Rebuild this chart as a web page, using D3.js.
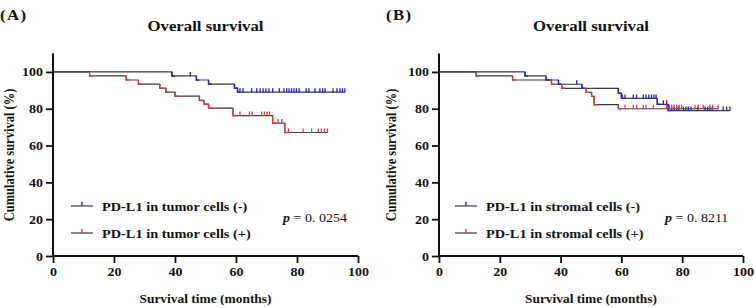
<!DOCTYPE html>
<html>
<head>
<meta charset="utf-8">
<script src="https://cdn.jsdelivr.net/npm/d3@7"></script>
<style>
  body { margin: 0; background: #fff; }
  text { font-family: "Liberation Serif", "Times New Roman", serif; font-weight: bold; fill: #111; }
</style>
</head>
<body>
<div id="canvas"></div>
<script>
// Panel A: PD-L1 in tumor cells
const tumorNegEvents = [[39, 97.8], [47, 95.6], [51, 93.4], [59.5, 91.2], [60.5, 89.0]];
const tumorNegCensor = [45, 61.3, 62.3, 65.1, 66.8, 67.9, 68.9, 69.8, 70.8, 72, 74.2, 75.7, 76.6, 77.4,
  78.2, 79, 79.8, 80.7, 83, 83.9, 85.9, 87.5, 88.4, 89.2, 91.8, 93.1, 94.1, 94.9, 95.7];
const tumorPosEvents = [[12, 97.8], [24, 95.6], [28, 93.4], [35, 91.2], [37, 89.0], [40, 86.8],
  [48, 84.5], [49.5, 82.5], [51, 80.3], [59, 76.3], [72, 72.2], [76, 67.1]];
const tumorPosCensor = [61.3, 64.4, 65.3, 68.4, 69.3, 70.2, 71, 73.8, 75, 77.2, 82, 84.8, 87, 88, 89, 90];

// Panel B: PD-L1 in stromal cells
const stromalNegEvents = [[28.3, 97.8], [35.2, 95.6], [39.3, 93.3], [47, 91.1], [59, 88.5], [60, 85.6],
  [71.8, 82.4], [75.4, 79.0]];
const stromalNegCensor = [45.3, 60.3, 61.2, 63.9, 65, 67.2, 68.1, 69, 69.9, 70.7, 71.4, 73.8, 74.9,
  76.5, 77.4, 78.2, 78.9, 80.4, 81.2, 82, 82.9, 85.1, 87.5, 88.4, 89.1, 89.9, 93.5, 94.6, 95.7];
const stromalPosEvents = [[12.2, 97.8], [24.2, 95.6], [37, 93.3], [40.4, 91.1], [48.4, 88.9],
  [50.2, 86.7], [51, 82.2], [59, 80.0]];
const stromalPosCensor = [61.2, 63.9, 65, 67.2, 68.1, 70.5, 74.9, 75.8, 76.5, 77.3, 78.2, 79, 79.8,
  84.2, 85.3, 86.9, 89.1, 90, 91.8];

const xTicks = [0, 20, 40, 60, 80, 100];
const yTicks = [0, 20, 40, 60, 80, 100];

const panels = [
  { label: "(A)", left: 53, right: 358, labelX: 10,
    neg: { name: "PD-L1 in tumor cells (-)", events: tumorNegEvents, censor: tumorNegCensor },
    pos: { name: "PD-L1 in tumor cells (+)", events: tumorPosEvents, censor: tumorPosCensor },
    p: "0. 0254", legendX: 71, pX: 283 },
  { label: "(B)", left: 439, right: 743, labelX: 392,
    neg: { name: "PD-L1 in stromal cells (-)", events: stromalNegEvents, censor: stromalNegCensor },
    pos: { name: "PD-L1 in stromal cells (+)", events: stromalPosEvents, censor: stromalPosCensor },
    p: "0. 8211", legendX: 455, pX: 665 }
];

const blue = "#1f1fd6", red = "#e23a3a", gray = "#3a3a3a";
const stretch = 1.12; // the source text is a bit wide

const svg = d3.select("#canvas")
  .append("svg")
  .attr("width", 755)
  .attr("height", 308);

function survAt(events, t) {
  let s = 100;
  events.forEach(e => { if (e[0] <= t) s = e[1]; });
  return s;
}

function wideText(g, x, y, size, anchor, str) {
  return g.append("text")
    .attr("transform", `translate(${x},${y}) scale(${stretch},1)`)
    .attr("text-anchor", anchor)
    .style("font-size", size + "px")
    .text(str);
}

function drawCurve(g, x, y, series, color) {
  const end = d3.max(series.censor.concat(series.events.map(e => e[0])));
  const pts = [[0, 100]].concat(series.events, [[end, series.events[series.events.length - 1][1]]]);

  g.append("path")
    .datum(pts)
    .attr("fill", "none")
    .attr("stroke", gray)
    .attr("stroke-width", 1.2)
    .attr("d", d3.line().curve(d3.curveStepAfter).x(d => x(d[0])).y(d => y(d[1])));

  // coloured drops
  g.append("g")
    .selectAll("path")
    .data(series.events)
    .join("path")
    .attr("fill", "none")
    .attr("stroke", color)
    .attr("stroke-width", 1.4)
    .attr("d", (d, i) => {
      const prev = i === 0 ? 100 : series.events[i - 1][1];
      return `M${x(d[0])},${y(prev)}V${y(d[1])}h3`;
    });

  // censor ticks
  g.append("g")
    .selectAll("line")
    .data(series.censor)
    .join("line")
    .attr("stroke", color)
    .attr("stroke-width", 1.3)
    .attr("x1", d => x(d)).attr("x2", d => x(d))
    .attr("y1", d => y(survAt(series.events, d)) + 0.5)
    .attr("y2", d => y(survAt(series.events, d)) - 4);
}

panels.forEach(p => {
  const g = svg.append("g");
  const x = d3.scaleLinear().domain([0, 100]).range([p.left, p.right]);
  const y = d3.scaleLinear().domain([0, 110]).range([256, 53.5]);
  const cx = (p.left + p.right) / 2;

  wideText(g, p.left - 53, 20, 15, "start", p.label).attr("letter-spacing", "1.2");
  wideText(g, cx, 31, 15, "middle", "Overall survival");

  drawCurve(g, x, y, p.neg, blue);
  drawCurve(g, x, y, p.pos, red);

  // Axes
  const xAxis = g.append("g")
    .attr("transform", "translate(0,256)")
    .call(d3.axisBottom(x).tickValues(xTicks).tickSize(7).tickPadding(4));
  const yAxis = g.append("g")
    .attr("transform", `translate(${p.left},0)`)
    .call(d3.axisLeft(y).tickValues(yTicks).tickSize(7).tickPadding(2));
  [xAxis, yAxis].forEach(a => {
    a.select(".domain").attr("stroke", "#111").attr("stroke-width", 2);
    a.selectAll(".tick line").attr("stroke", "#111").attr("stroke-width", 1.8);
    a.selectAll(".tick text").style("font-size", "12.5px")
      .style("font-family", "'Liberation Serif', serif").style("font-weight", "bold").attr("fill", "#111")
      .attr("transform", `scale(${stretch},1)`);
  });
  yAxis.select(".domain").attr("d", `M0,${y(110)}V${y(0)}`);
  xAxis.select(".domain").attr("d", `M${x(0)},0H${x(100)}`);

  wideText(g, cx, 303, 12, "middle", "Survival time (months)");

  g.append("text")
    .attr("transform", `translate(${p.labelX + 4},155) rotate(-90) scale(1,${stretch})`)
    .attr("text-anchor", "middle")
    .style("font-size", "12.5px")
    .text("Cumulative survival (%)");

  // Legend
  [[p.neg, blue, 206], [p.pos, red, 233]].forEach(([s, c, ly]) => {
    g.append("line")
      .attr("x1", p.legendX).attr("x2", p.legendX + 22)
      .attr("y1", ly).attr("y2", ly)
      .attr("stroke", gray).attr("stroke-width", 1.2);
    g.append("line")
      .attr("x1", p.legendX + 11).attr("x2", p.legendX + 11)
      .attr("y1", ly).attr("y2", ly - 4)
      .attr("stroke", c).attr("stroke-width", 1.4);
    wideText(g, p.legendX + 31, ly + 4.5, 12.8, "start", s.name);
  });

  const pt = wideText(g, p.pX, 222, 12.5, "start", null);
  pt.append("tspan").style("font-style", "italic").text("p");
  pt.append("tspan").attr("font-weight", "normal").text(" = " + p.p);
});
</script>
</body>
</html>
